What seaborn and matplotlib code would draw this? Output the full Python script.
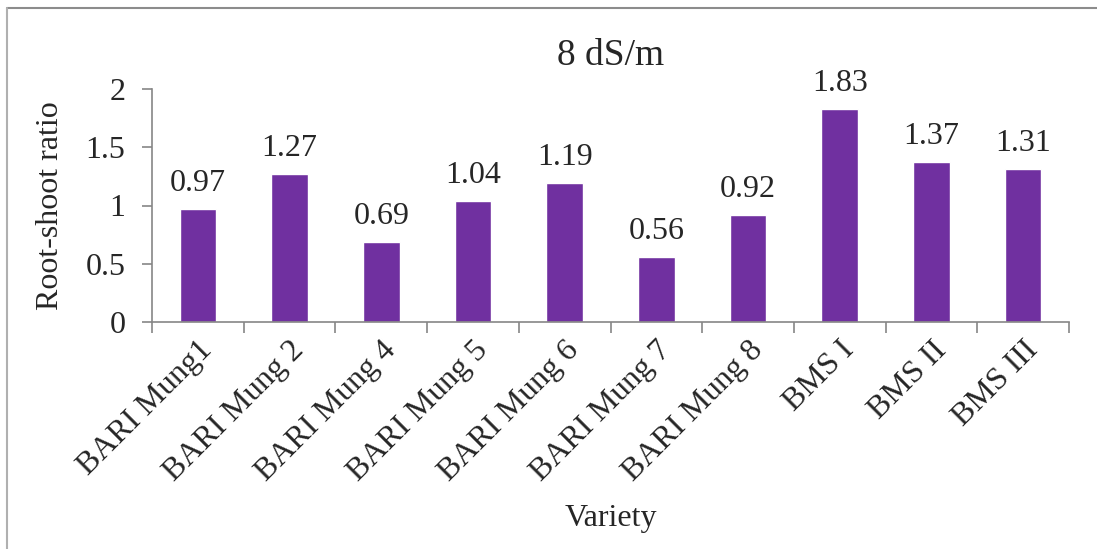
import matplotlib
matplotlib.use("Agg")
import matplotlib.pyplot as plt
from matplotlib.lines import Line2D
from matplotlib.ticker import FixedLocator, NullFormatter
import seaborn as sns
import pandas as pd

varieties = ["BARI Mung1", "BARI Mung 2", "BARI Mung 4", "BARI Mung 5", "BARI Mung 6",
             "BARI Mung 7", "BARI Mung 8", "BMS I", "BMS II", "BMS III"]
ratio = [0.97, 1.27, 0.69, 1.04, 1.19, 0.56, 0.92, 1.83, 1.37, 1.31]
y_ticks = [0, 0.5, 1, 1.5, 2]
y_tick_labels = ["0", "0.5", "1", "1.5", "2"]

sns.set_style("white")
plt.rcParams["font.family"] = ["Liberation Serif", "DejaVu Serif"]

df = pd.DataFrame({"Variety": varieties, "Ratio": ratio})

W, H = 1097, 549
fig = plt.figure(figsize=(W / 100, H / 100), dpi=100)
ax = fig.add_axes([152 / W, 1 - 322 / H, (1069 - 152) / W, (322 - 89) / H])

sns.barplot(data=df, x="Variety", y="Ratio", order=varieties, color="#7030A0",
            saturation=1, width=0.4, ax=ax)

ax.set_xlim(-0.5, len(varieties) - 0.5)
ax.set_ylim(0, 2)

FS = 23
for c in ax.containers:
    ax.bar_label(c, labels=[f"{v:.2f}" for v in ratio], padding=8, fontsize=FS)

spine_col = "#868686"
for side in ["top", "right"]:
    ax.spines[side].set_visible(False)
for side in ["left", "bottom"]:
    ax.spines[side].set_color(spine_col)
    ax.spines[side].set_linewidth(1.2)

ax.set_yticks(y_ticks)
ax.set_yticklabels(y_tick_labels, fontsize=FS)
ax.tick_params(axis="y", length=7, width=1.2, color=spine_col, pad=12, left=True)

# tick marks between categories, labels under the category centres
ax.xaxis.set_major_locator(FixedLocator([i - 0.5 for i in range(len(varieties) + 1)]))
ax.xaxis.set_major_formatter(NullFormatter())
ax.xaxis.set_minor_locator(FixedLocator(list(range(len(varieties)))))
ax.set_xticklabels(varieties, minor=True, rotation=45, ha="right",
                   rotation_mode="anchor", fontsize=FS)
ax.tick_params(axis="x", which="major", length=8, width=1.2, color=spine_col, bottom=True)
ax.tick_params(axis="x", which="minor", length=0, pad=10)

ax.set_xlabel("Variety", fontsize=FS, labelpad=12)
ax.set_ylabel("Root-shoot ratio", fontsize=FS, labelpad=15)
ax.set_title("8 dS/m", fontsize=27, pad=17)

# outer frame of the chart area
fig.add_artist(Line2D([7 / W, 1.0], [1 - 8 / H, 1 - 8 / H], color="#8c8c8c", lw=1.5))
fig.add_artist(Line2D([7 / W, 7 / W], [0, 1 - 8 / H], color="#b0b0b0", lw=1.5))

fig.savefig("out.png", dpi=100)
